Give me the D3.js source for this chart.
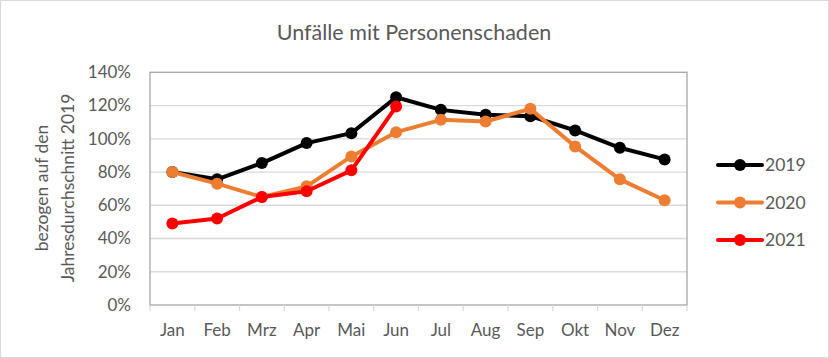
<!DOCTYPE html>
<html><head><meta charset="utf-8">
<script src="https://cdn.jsdelivr.net/npm/d3@7"></script>
<style>body{margin:0;background:#fff}svg{display:block}text{font-family:Lato,"Open Sans",sans-serif}</style>
</head><body><svg id="c" width="829" height="358"></svg>
<script>
const months = ["Jan","Feb","Mrz","Apr","Mai","Jun","Jul","Aug","Sep","Okt","Nov","Dez"];
const yTicks = [0,20,40,60,80,100,120,140];
const s2019 = [80,75.6,85.4,97.4,103.4,125,117.4,114.4,113.6,105,94.6,87.6];
const s2020 = [80,73,65,71.4,89.4,104,111.4,110.4,118,95.4,75.6,63];
const s2021 = [49,52,65,68.4,81,119.4];
const series = [
  {name:"2019", values:s2019, color:"#000000"},
  {name:"2020", values:s2020, color:"#ED7D31"},
  {name:"2021", values:s2021, color:"#FF0000"}
];
const svg = d3.select("#c");
svg.append("rect").attr("x",0.5).attr("y",0.5).attr("width",828).attr("height",357).attr("fill","#fff").attr("stroke","#d9d9d9");
const L=150,R=687,T=72.3,B=305;
const x = d3.scaleBand().domain(months).range([L,R]);
const y = d3.scaleLinear().domain([0,140]).range([B,T]);
svg.append("g").selectAll("line").data(yTicks.filter(d=>d>0&&d<140)).join("line")
  .attr("x1",L).attr("x2",R).attr("y1",d=>y(d)).attr("y2",d=>y(d))
  .attr("stroke","#d9d9d9").attr("stroke-width",1.3);
svg.append("rect").attr("x",L).attr("y",T).attr("width",R-L).attr("height",B-T)
  .attr("fill","none").attr("stroke","#a6a6a6").attr("stroke-width",1.3);
svg.append("g").selectAll("line").data(d3.range(months.length+1)).join("line")
  .attr("x1",i=>L+i*x.step()).attr("x2",i=>L+i*x.step()).attr("y1",B).attr("y2",B+6)
  .attr("stroke","#d9d9d9").attr("stroke-width",1.3);
svg.append("g").selectAll("text").data(yTicks).join("text")
  .attr("x",131).attr("y",d=>y(d)).attr("dy","0.35em").attr("text-anchor","end")
  .attr("fill","#595959").attr("font-size",17).text(d=>d+"%");
svg.append("g").selectAll("text").data(months).join("text")
  .attr("x",d=>x(d)+x.bandwidth()/2).attr("y",330).attr("dy","0.35em").attr("text-anchor","middle")
  .attr("fill","#595959").attr("font-size",17).text(d=>d);
svg.append("text").attr("x",414).attr("y",32).attr("dy","0.35em").attr("text-anchor","middle")
  .attr("fill","#595959").attr("font-size",21.5).text("Unfälle mit Personenschaden");
const yt = svg.append("text").attr("transform","translate(0,188) rotate(-90)").attr("text-anchor","middle")
  .attr("fill","#595959").attr("font-size",17.5);
yt.append("tspan").attr("x",0).attr("y",42).attr("dy","0.35em").text("bezogen auf den");
yt.append("tspan").attr("x",0).attr("y",68).attr("dy","0.35em").text("Jahresdurchschnitt 2019");
const line = d3.line().x((d,i)=>x(months[i])+x.bandwidth()/2).y(d=>y(d));
series.forEach(s=>{
  const g = svg.append("g");
  g.append("path").attr("d",line(s.values)).attr("fill","none").attr("stroke",s.color)
    .attr("stroke-width",4).attr("stroke-linejoin","round");
  g.selectAll("circle").data(s.values).join("circle")
    .attr("cx",(d,i)=>x(months[i])+x.bandwidth()/2).attr("cy",d=>y(d)).attr("r",6).attr("fill",s.color);
});
const lg = svg.append("g");
series.forEach((s,i)=>{
  const ly = 165 + i*37.5;
  lg.append("line").attr("x1",718).attr("x2",762).attr("y1",ly).attr("y2",ly).attr("stroke",s.color).attr("stroke-width",4).attr("stroke-linecap","round");
  lg.append("circle").attr("cx",740).attr("cy",ly).attr("r",6).attr("fill",s.color);
  lg.append("text").attr("x",765).attr("y",ly).attr("dy","0.35em").attr("fill","#595959").attr("font-size",17.5).text(s.name);
});
</script></body></html>
